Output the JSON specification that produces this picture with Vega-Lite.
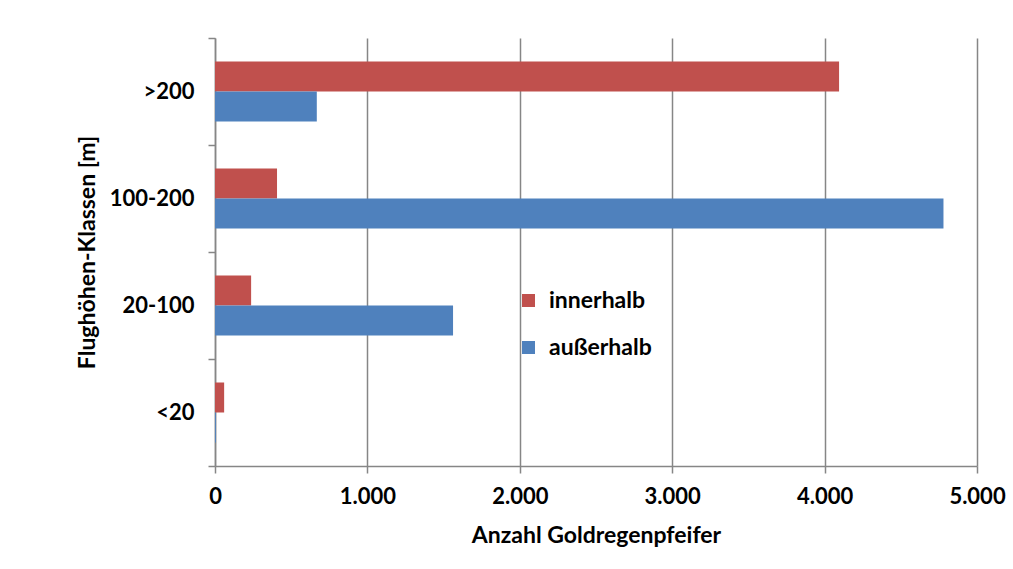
{
  "$schema": "https://vega.github.io/schema/vega-lite/v6.json",
  "width": 762,
  "height": 428,
  "autosize": "none",
  "padding": {"left": 215, "top": 38, "right": 36, "bottom": 103},
  "background": "white",
  "data": {
    "values": [
      {"klasse": ">200", "lage": "innerhalb", "anzahl": 4095},
      {"klasse": ">200", "lage": "außerhalb", "anzahl": 668},
      {"klasse": "100-200", "lage": "innerhalb", "anzahl": 407},
      {"klasse": "100-200", "lage": "außerhalb", "anzahl": 4780},
      {"klasse": "20-100", "lage": "innerhalb", "anzahl": 237},
      {"klasse": "20-100", "lage": "außerhalb", "anzahl": 1562},
      {"klasse": "<20", "lage": "innerhalb", "anzahl": 60},
      {"klasse": "<20", "lage": "außerhalb", "anzahl": 6}
    ]
  },
  "mark": {"type": "bar"},
  "encoding": {
    "y": {
      "field": "klasse",
      "type": "nominal",
      "sort": [">200", "100-200", "20-100", "<20"],
      "scale": {"paddingInner": 0, "paddingOuter": 0},
      "axis": {
        "title": "Flughöhen-Klassen [m]",
        "tickBand": "extent",
        "tickSize": 7,
        "labelPadding": 14,
        "titlePadding": 10,
        "grid": false
      }
    },
    "yOffset": {
      "field": "lage",
      "type": "nominal",
      "sort": ["innerhalb", "außerhalb"],
      "scale": {"paddingInner": 0, "paddingOuter": 0.783}
    },
    "x": {
      "field": "anzahl",
      "type": "quantitative",
      "scale": {"domain": [0, 5000], "nice": false},
      "axis": {
        "title": "Anzahl Goldregenpfeifer",
        "values": [0, 1000, 2000, 3000, 4000, 5000],
        "labelExpr": "replace(format(datum.value, ','), ',', '.')",
        "labelFlush": false,
        "tickSize": 7,
        "labelPadding": 13,
        "titlePadding": 17,
        "grid": true
      }
    },
    "color": {
      "field": "lage",
      "type": "nominal",
      "sort": ["innerhalb", "außerhalb"],
      "scale": {"domain": ["innerhalb", "außerhalb"], "range": ["#C0504D", "#4F81BD"]},
      "legend": {
        "title": null,
        "orient": "none",
        "legendX": 302,
        "legendY": 251,
        "symbolType": "square",
        "symbolSize": 170,
        "symbolStrokeWidth": 0,
        "rowPadding": 23,
        "labelOffset": 9,
        "labelFontSize": 23,
        "labelFont": "Lato",
        "labelFontWeight": "bold",
        "labelColor": "#000000"
      }
    }
  },
  "config": {
    "view": {"stroke": null},
    "axis": {
      "domainColor": "#868686",
      "domainWidth": 1.5,
      "tickColor": "#868686",
      "tickWidth": 1.5,
      "gridColor": "#868686",
      "gridWidth": 1.5,
      "gridOpacity": 1,
      "labelFont": "Lato",
      "labelFontSize": 22,
      "labelFontWeight": "bold",
      "labelColor": "#000000",
      "titleFont": "Lato",
      "titleFontSize": 23,
      "titleFontWeight": "bold",
      "titleColor": "#000000"
    }
  }
}
